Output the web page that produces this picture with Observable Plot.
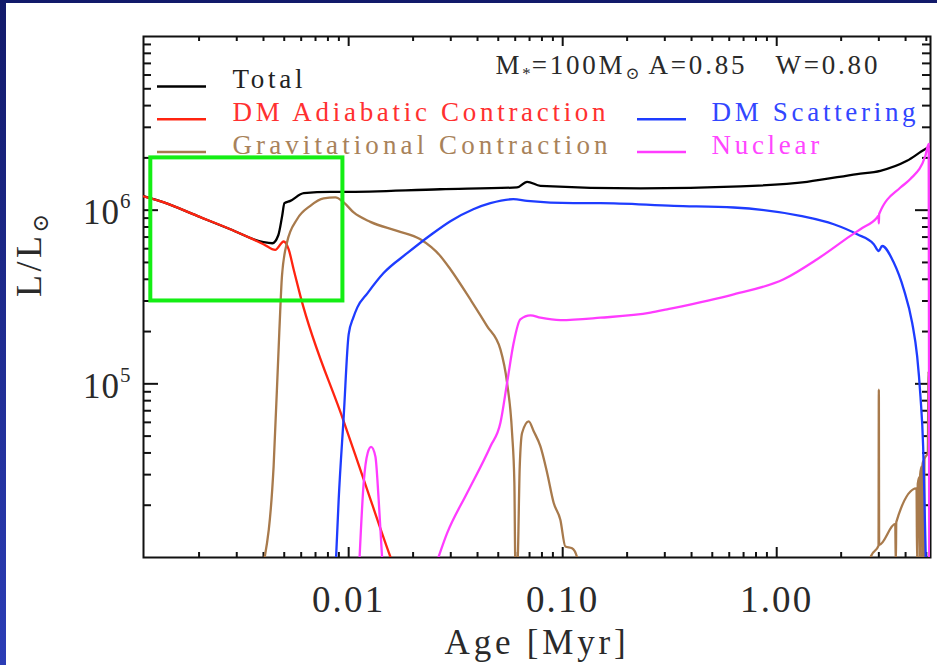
<!DOCTYPE html>
<html>
<head>
<meta charset="utf-8">
<script src="https://cdn.jsdelivr.net/npm/d3@7"></script>
<script src="https://cdn.jsdelivr.net/npm/@observablehq/plot@0.6"></script>
<style>
  html, body { margin: 0; padding: 0; }
  body { width: 937px; height: 665px; overflow: hidden; background: linear-gradient(to bottom, #121a6a, #2b3db6); position: relative; }
  #page { position: absolute; left: 6px; top: 3px; width: 931px; height: 662px; background: #fff; }
  #page svg text { white-space: pre; }
</style>
</head>
<body>
<div id="page"></div>
<script>
// ---------------- data ----------------
const seriesNames = ["Total", "DM Adiabatic Contraction", "Gravitational Contraction", "DM Scattering", "Nuclear"];
const seriesColors = ["#000000", "#ff2410", "#a87a4c", "#1e3cff", "#ff3cff"];
const legendTextColors = ["#222222", "#ff3030", "#a8825a", "#3246ff", "#ff46ff"];

// Total
const totalAge = [0.0011, 0.00137, 0.00196, 0.0028, 0.0040, 0.0044, 0.00469, 0.00489, 0.00501, 0.00534, 0.00617, 0.00821, 0.00945, 0.0268, 0.0612, 0.0682, 0.0787, 0.231, 0.676, 1.386, 2.375, 3.05, 4.06, 4.95, 5.23];
const totalLum = [1.205e6, 1.108e6, 9.27e5, 7.77e5, 6.54e5, 6.45e5, 7.17e5, 9.27e5, 1.097e6, 1.131e6, 1.254e6, 1.275e6, 1.275e6, 1.32e6, 1.352e6, 1.457e6, 1.381e6, 1.334e6, 1.37e6, 1.457e6, 1.614e6, 1.686e6, 1.924e6, 2.25e6, 2.33e6];

// DM Adiabatic Contraction
const adiabaticAge = [0.0011, 0.00137, 0.00196, 0.0028, 0.0040, 0.00454, 0.00497, 0.00524, 0.00553, 0.00595, 0.00948, 0.01175, 0.01566, 0.0165];
const adiabaticLum = [1.20e6, 1.108e6, 9.27e5, 7.77e5, 6.37e5, 5.90e5, 6.60e5, 5.96e5, 4.57e5, 3.20e5, 6.08e4, 2.82e4, 1.01e4, 8.5e3];

// Gravitational Contraction (two pieces)
const gravAgeEarly = [0.00402, 0.00446, 0.00474, 0.00488, 0.00515, 0.00574, 0.00662, 0.00764, 0.00867, 0.00948, 0.01055, 0.01263, 0.01684, 0.02163, 0.0268, 0.02987, 0.03704, 0.04432, 0.05117, 0.05497, 0.05801, 0.05946, 0.0601, 0.0614, 0.0630, 0.0646, 0.0694, 0.0732, 0.0787, 0.0846, 0.0908, 0.0975, 0.1029, 0.1106, 0.1168, 0.118];
const gravLumEarly = [9.5e3, 3.35e4, 1.97e5, 4.18e5, 6.51e5, 8.87e5, 1.059e6, 1.168e6, 1.184e6, 1.108e6, 9.70e5, 8.56e5, 7.60e5, 6.80e5, 5.45e5, 4.57e5, 3.06e5, 2.15e5, 1.578e5, 1.013e5, 5.21e4, 2.68e4, 9e3, 9e3, 3.35e4, 5.21e4, 6.08e4, 5.33e4, 4.36e4, 3.07e4, 2.06e4, 1.65e4, 1.156e4, 1.13e4, 1.0e4, 9e3];
const gravAgeLate = [2.70, 2.76, 2.99, 3.00, 3.01, 3.58, 3.60, 3.62, 4.50, 4.53, 4.56, 4.64, 4.66, 4.68, 4.76, 4.78, 4.80, 4.85, 4.87, 4.90, 5.08, 5.12, 5.16];
const gravLumLate = [9e3, 1.02e4, 1.17e4, 9.27e4, 1.18e4, 1.56e4, 9e3, 1.6e4, 2.5e4, 9e3, 2.65e4, 2.9e4, 9e3, 3.0e4, 3.35e4, 9e3, 3.45e4, 3.6e4, 9e3, 3.7e4, 4.0e4, 1.18e5, 6.0e4];

// DM Scattering
const scatterAge = [0.0087, 0.00898, 0.00948, 0.0100, 0.01052, 0.01098, 0.01223, 0.01452, 0.01877, 0.02407, 0.02987, 0.03822, 0.04593, 0.0588, 0.06818, 0.1125, 0.15, 0.3302, 0.6295, 1.29, 1.847, 2.375, 2.841, 2.997, 3.108, 3.522, 3.923, 4.293, 4.53, 4.694, 4.832, 4.899, 4.969, 4.99];
const scatterLum = [9e3, 2.15e4, 6.5e4, 1.925e5, 2.413e5, 2.756e5, 3.32e5, 4.33e5, 5.65e5, 7.17e5, 8.64e5, 1.013e6, 1.098e6, 1.157e6, 1.132e6, 1.098e6, 1.098e6, 1.059e6, 1.036e6, 9.27e5, 8.30e5, 7.27e5, 6.37e5, 5.82e5, 6.22e5, 4.99e5, 3.5e5, 2.249e5, 1.443e5, 8.48e4, 4.36e4, 2.245e4, 1.0e4, 9e3];

// Nuclear (two pieces)
const nuclearAgeEarly = [0.0112, 0.01175, 0.01227, 0.01273, 0.01333, 0.01381, 0.0144];
const nuclearLumEarly = [9e3, 2.68e4, 4.00e4, 4.33e4, 3.82e4, 2.15e4, 9e3];
const nuclearAgeLate = [0.0255, 0.02884, 0.03575, 0.04593, 0.05117, 0.05497, 0.05902, 0.06338, 0.07065, 0.0787, 0.0976, 0.15, 0.257, 0.3075, 0.6295, 1.078, 1.545, 2.21, 2.46, 2.945, 2.99, 3.0, 3.01, 3.784, 4.21, 4.95, 5.13, 5.16];
const nuclearLumLate = [9e3, 1.381e4, 2.35e4, 4.36e4, 5.96e4, 1.013e5, 1.724e5, 2.35e5, 2.478e5, 2.403e5, 2.328e5, 2.403e5, 2.568e5, 2.685e5, 3.276e5, 4.0e5, 5.22e5, 7.11e5, 7.77e5, 9.08e5, 9.3e5, 8.4e5, 9.5e5, 1.35e6, 1.51e6, 2.058e6, 2.404e6, 8e3];

// axes
const xMajor = [0.01, 0.1, 1];
const xTickLabels = ["0.01", "0.10", "1.00"];
const xMinor = [0.002, 0.003, 0.004, 0.005, 0.006, 0.007, 0.008, 0.009, 0.02, 0.03, 0.04, 0.05, 0.06, 0.07, 0.08, 0.09, 0.2, 0.3, 0.4, 0.5, 0.6, 0.7, 0.8, 0.9, 2, 3, 4, 5];
const yMajor = [1e5, 1e6];
const yTickLabels = ["10^{5}", "10^{6}"];
const yMinor = [2e4, 3e4, 4e4, 5e4, 6e4, 7e4, 8e4, 9e4, 2e5, 3e5, 4e5, 5e5, 6e5, 7e5, 8e5, 9e5, 2e6, 3e6, 4e6, 5e6, 6e6, 7e6, 8e6, 9e6];
const xTitle = "Age [Myr]";
const yTitle = "L/L_{⊙}";
const annotation = "M_{*}=100M_{⊙} A=0.85   W=0.80";
const highlightBox = [{x1: 0.00119, x2: 0.0094, y1: 3e5, y2: 2e6}];

// ---------------- build ----------------
const rows = (ages, lums) => ages.map((a, i) => ({age: a, lum: lums[i]}));
const gap = [{age: NaN, lum: NaN}];
const seriesData = [
  rows(totalAge, totalLum),
  rows(adiabaticAge, adiabaticLum),
  [...rows(gravAgeEarly, gravLumEarly), ...gap, ...rows(gravAgeLate, gravLumLate)],
  rows(scatterAge, scatterLum),
  [...rows(nuclearAgeEarly, nuclearLumEarly), ...gap, ...rows(nuclearAgeLate, nuclearLumLate)]
];

const W = 931, H = 662, mL = 137, mT = 33, mR = 7, mB = 108;
const fw = W - mL - mR, fh = H - mT - mB;
const serif = "'Liberation Serif', 'Times New Roman', 'DejaVu Serif', serif";
const ink = "#111";
const textInk = "#2a2a2a";

const marks = [];
// ticks on all four sides (inward)
marks.push(Plot.tickX(xMajor, {x: d => d, insetTop: fh - 10, stroke: ink, strokeWidth: 2}));
marks.push(Plot.tickX(xMajor, {x: d => d, insetBottom: fh - 10, stroke: ink, strokeWidth: 2}));
marks.push(Plot.tickX(xMinor, {x: d => d, insetTop: fh - 5, stroke: ink, strokeWidth: 2}));
marks.push(Plot.tickX(xMinor, {x: d => d, insetBottom: fh - 5, stroke: ink, strokeWidth: 2}));
marks.push(Plot.tickY(yMajor, {y: d => d, insetRight: fw - 15, stroke: ink, strokeWidth: 2}));
marks.push(Plot.tickY(yMajor, {y: d => d, insetLeft: fw - 15, stroke: ink, strokeWidth: 2}));
marks.push(Plot.tickY(yMinor, {y: d => d, insetRight: fw - 8, stroke: ink, strokeWidth: 2}));
marks.push(Plot.tickY(yMinor, {y: d => d, insetLeft: fw - 8, stroke: ink, strokeWidth: 2}));
marks.push(Plot.frame({stroke: ink, strokeWidth: 2}));

// curves
seriesData.forEach((data, i) => {
  marks.push(Plot.line(data, {x: "age", y: "lum", stroke: seriesColors[i], strokeWidth: 2.3, curve: "monotone-x", clip: true}));
});

// highlight box
marks.push(Plot.rect(highlightBox, {x1: "x1", x2: "x2", y1: "y1", y2: "y2", fill: "none", stroke: "#14ee14", strokeWidth: 4}));

// tick labels
marks.push(Plot.text(xMajor, {x: d => d, frameAnchor: "bottom", text: (d, i) => xTickLabels[i], dy: 54, lineAnchor: "bottom", fontSize: 37, fontFamily: serif, fill: textInk}));
marks.push(Plot.text(yMajor, {y: d => d, frameAnchor: "left", text: (d, i) => yTickLabels[i], dx: -12, dy: 14, textAnchor: "end", lineAnchor: "bottom", fontSize: 35, fontFamily: serif, fill: textInk}));
// axis titles
marks.push(Plot.text([xTitle], {frameAnchor: "bottom", dy: 96, lineAnchor: "bottom", fontSize: 35, fontFamily: serif, fill: textInk}));
marks.push(Plot.text([yTitle], {frameAnchor: "left", dx: -114, rotate: -90, lineAnchor: "middle", fontSize: 36, fontFamily: serif, fill: textInk}));
// annotation
marks.push(Plot.text([annotation], {frameAnchor: "top-left", dx: 352, dy: 37, textAnchor: "start", lineAnchor: "bottom", fontSize: 27, fontFamily: serif, fill: textInk}));
// legend text
const legendSlots = [[0, 0], [0, 1], [0, 2], [1, 1], [1, 2]];
seriesNames.forEach((name, i) => {
  const [c, r] = legendSlots[i];
  marks.push(Plot.text([name], {frameAnchor: "top-left", dx: c ? 568 : 89, dy: 51 + r * 33, textAnchor: "start", lineAnchor: "bottom", fontSize: 27, fontFamily: serif, fill: legendTextColors[i]}));
});

const svg = Plot.plot({
  width: W, height: H,
  marginLeft: mL, marginRight: mR, marginTop: mT, marginBottom: mB,
  x: {type: "log", domain: [0.0011, 5.23], axis: null},
  y: {type: "log", domain: [1e4, 1e7], axis: null},
  style: {background: "white", overflow: "visible"},
  marks
});

// ----- rich text (super/subscripts) and letter spacing -----
const svgNS = "http://www.w3.org/2000/svg";
function richText(el, src, base) {
  const re = /([_^])\{([^}]*)\}/g;
  const parts = []; let last = 0, m;
  while ((m = re.exec(src))) {
    if (m.index > last) parts.push({t: src.slice(last, m.index), k: ""});
    parts.push({t: m[2], k: m[1]});
    last = re.lastIndex;
  }
  if (last < src.length) parts.push({t: src.slice(last), k: ""});
  el.textContent = "";
  let cur = 0;
  for (const p of parts) {
    const ts = document.createElementNS(svgNS, "tspan");
    ts.textContent = p.t;
    const shift = p.k === "^" ? -0.45 * base : p.k === "_" ? 0.2 * base : 0;
    if (shift !== cur) ts.setAttribute("dy", shift - cur);
    cur = shift;
    if (p.k) { ts.setAttribute("font-size", (p.k === "^" ? 0.6 : 0.62) * base); ts.setAttribute("letter-spacing", 1); }
    el.appendChild(ts);
  }
}
const spacing = new Map();
seriesNames.forEach(n => spacing.set(n, 3.7));
spacing.set("Gravitational Contraction", 4.1);
xTickLabels.forEach(n => spacing.set(n, 2.2));
yTickLabels.forEach(n => spacing.set(n, 1));
spacing.set(xTitle, 3.8); spacing.set(yTitle, 3.5); spacing.set(annotation, 2.8);
d3.select(svg).selectAll("text").each(function () {
  const s = this.textContent;
  const g = this.closest("g");
  const base = parseFloat(g && g.getAttribute("font-size")) || 27;
  if (spacing.has(s)) this.setAttribute("letter-spacing", spacing.get(s));
  this.setAttributeNS("http://www.w3.org/XML/1998/namespace", "xml:space", "preserve");
  if (/[_^]\{/.test(s)) richText(this, s, base);
});

// legend line samples
const lg = d3.select(svg).append("g");
seriesNames.forEach((name, i) => {
  const [c, r] = legendSlots[i];
  const x0 = mL + (c ? 494 : 14), y0 = mT + 50.5 + r * 32.7;
  lg.append("line").attr("x1", x0).attr("x2", x0 + 49).attr("y1", y0).attr("y2", y0)
    .attr("stroke", seriesColors[i]).attr("stroke-width", 2.5);
});

document.getElementById("page").appendChild(svg);
</script>
</body>
</html>
